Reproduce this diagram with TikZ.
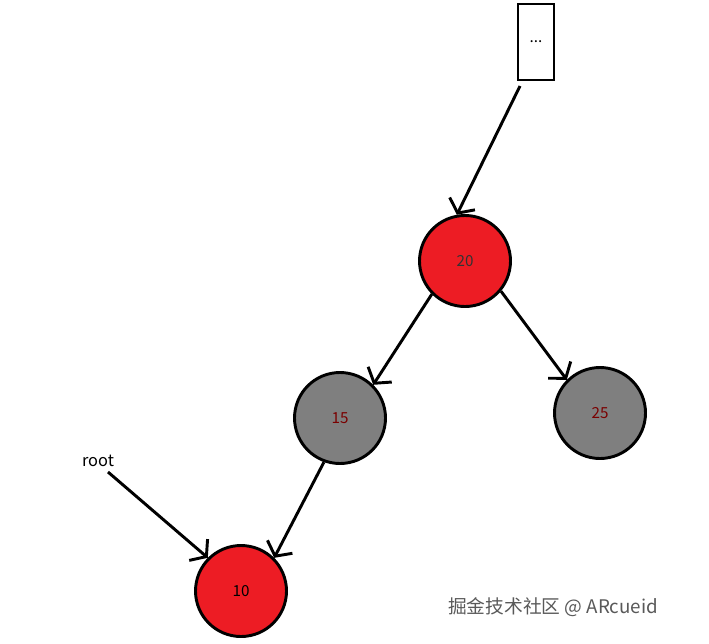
\documentclass[tikz,border=0pt]{standalone}
\usepackage{fontspec}
\setmainfont{Noto Sans CJK SC}
\usetikzlibrary{arrows.meta}
\definecolor{rbred}{HTML}{ED1C24}
\definecolor{rbgray}{HTML}{7F7F7F}
\definecolor{lbred}{HTML}{7A0000}
\begin{document}
\begin{tikzpicture}[x=0.03cm,y=-0.03cm,
  rb/.style={circle,draw=black,line width=2.5pt,minimum size=91*0.03cm,inner sep=0pt,font=\fontsize{13}{15}\selectfont},
  rn/.style={rb,fill=rbred},
  gn/.style={rb,fill=rbgray},
  arr/.style={line width=2.5pt,-{Straight Barb[length=9pt,width=24pt,line width=2.5pt]}}]
\useasboundingbox (0,0) rectangle (709,643);
\node[draw,line width=2.5pt,minimum width=36*0.03cm,minimum height=76*0.03cm,inner sep=0pt,font=\fontsize{13}{15}\selectfont] (box) at (536,42) {...};
\node[rn,text=black!80] (n20) at (465,261) {20};
\node[gn,text=lbred] (n15) at (340,418) {15};
\node[gn,text=lbred] (n25) at (600,413) {25};
\node[rn,text=black] (n10) at (241,591) {10};
\node[font=\fontsize{14}{16}\selectfont] (root) at (98,461) {root};
\coordinate (rs) at (108,472);
\coordinate (bs) at (520,86);
\node[text=black!65,font=\fontsize{16}{18}\selectfont] (wm) at (553,607) {掘金技术社区 @ ARcueid};
\draw[arr] (bs) -- (n20.100);
\draw[arr] (n20.225) -- (n15.north east);
\draw[arr] (n20.320) -- (n25.north west);
\draw[arr] (n15.250) -- (n10.north east);
\draw[arr] (rs) -- (n10.north west);
\end{tikzpicture}
\end{document}
